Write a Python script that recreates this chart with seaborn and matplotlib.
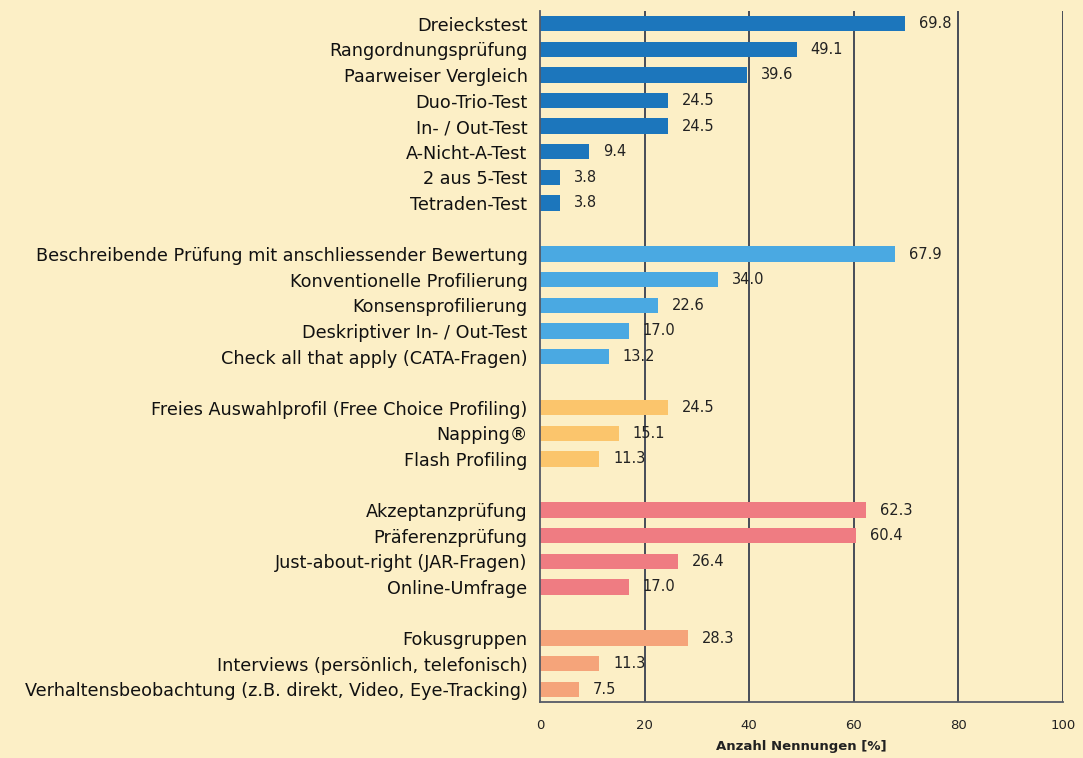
import matplotlib
matplotlib.use("Agg")
import matplotlib.pyplot as plt
import seaborn as sns
import pandas as pd
import numpy as np

# ---- data ----
group1_labels = ["Dreieckstest", "Rangordnungsprüfung", "Paarweiser Vergleich", "Duo-Trio-Test",
                 "In- / Out-Test", "A-Nicht-A-Test", "2 aus 5-Test", "Tetraden-Test"]
group1_values = [69.8, 49.1, 39.6, 24.5, 24.5, 9.4, 3.8, 3.8]

group2_labels = ["Beschreibende Prüfung mit anschliessender Bewertung", "Konventionelle Profilierung",
                 "Konsensprofilierung", "Deskriptiver In- / Out-Test", "Check all that apply (CATA-Fragen)"]
group2_values = [67.9, 34.0, 22.6, 17.0, 13.2]

group3_labels = ["Freies Auswahlprofil (Free Choice Profiling)", "Napping®", "Flash Profiling"]
group3_values = [24.5, 15.1, 11.3]

group4_labels = ["Akzeptanzprüfung", "Präferenzprüfung", "Just-about-right (JAR-Fragen)", "Online-Umfrage"]
group4_values = [62.3, 60.4, 26.4, 17.0]

group5_labels = ["Fokusgruppen", "Interviews (persönlich, telefonisch)",
                 "Verhaltensbeobachtung (z.B. direkt, Video, Eye-Tracking)"]
group5_values = [28.3, 11.3, 7.5]

x_ticks = [0, 20, 40, 60, 80, 100]
x_label = "Anzahl Nennungen [%]"

# ---- styling ----
group_names = ["g1", "g2", "g3", "g4", "g5"]
group_colors = {"g1": "#1C76BC", "g2": "#4AA9E2", "g3": "#FBC56C", "g4": "#EF7C82", "g5": "#F5A47A"}
bg = "#FCEFC6"

groups = [(group1_labels, group1_values), (group2_labels, group2_values), (group3_labels, group3_values),
          (group4_labels, group4_values), (group5_labels, group5_values)]

rows = []
order = []
display = []
for gi, (labs, vals) in enumerate(groups):
    if gi > 0:
        order.append(f"__gap{gi}")
        display.append("")
    for l, v in zip(labs, vals):
        rows.append({"label": l, "value": v, "group": group_names[gi]})
        order.append(l)
        display.append(l)
df = pd.DataFrame(rows)

sns.set_theme(style="white")
plt.rcParams["font.family"] = ["DejaVu Sans"]

fig = plt.figure(figsize=(10.83, 7.58), dpi=100, facecolor=bg)
ax = fig.add_axes([540 / 1083, 1 - 702 / 758, 523 / 1083, 691 / 758])
ax.set_facecolor(bg)

sns.barplot(data=df, y="label", x="value", hue="group", order=order, palette=group_colors,
            dodge=False, width=0.6, legend=False, ax=ax, orient="h", saturation=1, edgecolor="none")

ax.set_xlim(0, 100)
ax.set_ylim(len(order) - 0.5, -0.5)
ax.set_xticks(x_ticks)
ax.set_xticklabels([str(t) for t in x_ticks], fontsize=9.5, color="#222222")
ax.set_yticks(range(len(order)))
ax.set_yticklabels(display, fontsize=12.7, color="#111111")
ax.set_yticks(np.arange(-0.5, len(order), 1), minor=True)
ax.tick_params(axis="y", which="major", length=0, pad=9)
ax.tick_params(axis="y", which="minor", length=4, width=1, color="#555a66", direction="out")
ax.tick_params(axis="x", which="major", length=4, width=1, color="#555a66", direction="out", pad=8)
ax.set_ylabel("")
ax.set_xlabel(x_label, fontsize=9.5, fontweight="bold", color="#222222", labelpad=6)

for x in x_ticks[1:]:
    ax.axvline(x, color="#474c58", linewidth=1.4, zorder=0)

for s in ["top", "right"]:
    ax.spines[s].set_visible(False)
for s in ["left", "bottom"]:
    ax.spines[s].set_color("#555a66")
    ax.spines[s].set_linewidth(1.3)

pos = {l: i for i, l in enumerate(order)}
for _, r in df.iterrows():
    ax.annotate(f"{r['value']:.1f}", xy=(r["value"], pos[r["label"]]), xytext=(10, 0),
                textcoords="offset points", va="center", ha="left", fontsize=10.5, color="#222222")

fig.savefig("out.png", dpi=100, facecolor=bg)
